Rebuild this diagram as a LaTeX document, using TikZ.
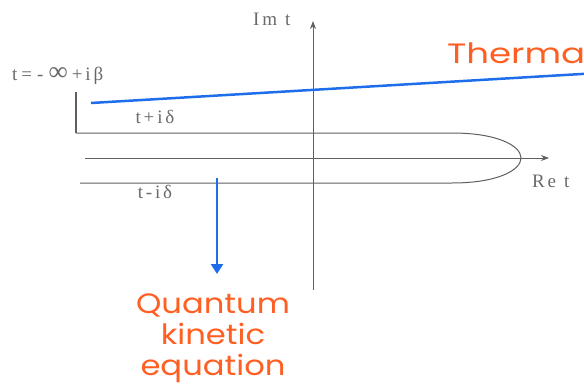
\documentclass[tikz,border=0pt]{standalone}
\usepackage{fontspec}
\setmainfont{Liberation Serif}
\newfontfamily\lblfont[LetterSpace=15]{Liberation Serif}
\newfontfamily\handfont[FakeStretch=1.15]{Poppins}
\newfontfamily\handwide[FakeStretch=1.27]{Poppins}
\usetikzlibrary{arrows.meta}
\definecolor{axisgray}{RGB}{95,95,95}
\definecolor{textgray}{RGB}{105,105,105}
\definecolor{myblue}{RGB}{30,110,235}
\definecolor{myorange}{RGB}{255,95,35}
\tikzset{
  axis/.style={draw=axisgray, line width=1pt, -{Stealth[length=8pt,width=6pt]}},
  contour/.style={draw=axisgray, line width=1pt},
  lbl/.style={text=textgray, font=\lblfont\fontsize{19}{22}\selectfont, inner sep=0pt},
  hand/.style={text=myorange, font=\handfont\fontsize{28}{31}\selectfont, inner sep=0pt, align=center},
  bluearrow/.style={draw=myblue, line width=2.5pt, -{Triangle[length=10pt,width=12pt]}}
}
\begin{document}
\begin{tikzpicture}[x=1pt,y=-1pt]
\useasboundingbox (0,0) rectangle (584,388);
% axes
\coordinate (hxs) at (85,158);
\coordinate (hxe) at (549,158);
\coordinate (vys) at (313,290);
\coordinate (vye) at (313,21);
\draw[axis] (hxs) -- (hxe);
\draw[axis] (vys) -- (vye);
% contour
\coordinate (bartop) at (76,92);
\coordinate (ul) at (76,133);
\coordinate (ur) at (452,133);
\coordinate (tipc) at (521,158);
\coordinate (lr) at (452,183);
\coordinate (ll) at (80,183);
\draw[contour, line width=2.2pt] (bartop) -- (ul);
\draw[contour] (ul) -- (ur) .. controls (498,133) and (521,146) .. (tipc)
  .. controls (521,170) and (498,183) .. (lr) -- (ll);
% thermal line
\coordinate (ths) at (91,103);
\coordinate (the) at (590,73.5);
\draw[myblue, line width=2.5pt] (ths) -- (the);
% arrow to kinetic equation
\coordinate (bas) at (217,178);
\coordinate (bae) at (217,274);
\draw[bluearrow] (bas) -- (bae);
% labels
\node[lbl, anchor=base west] (tinf) at (12,80) {t\kern4pt=\kern5pt-\kern5pt{\fontsize{27}{27}\selectfont ∞}\kern4pt+\kern3ptiβ};
\node[lbl, anchor=base] (tplus) at (155,123) {t+iδ};
\node[lbl, anchor=base] (tminus) at (155,198) {t-iδ};
\node[lbl, anchor=base west] (ret) at (532,187) {Re\kern8pt t};
\node[lbl, anchor=base west] (imt) at (253,25) {Im\kern8pt t};
\node[hand, font=\handwide\fontsize{28}{31}\selectfont, anchor=base west] (therm) at (447,63) {Thermal};
\node[hand, anchor=north] (qke) at (213,294) {Quantum\\kinetic\\equation};
\end{tikzpicture}
\end{document}
